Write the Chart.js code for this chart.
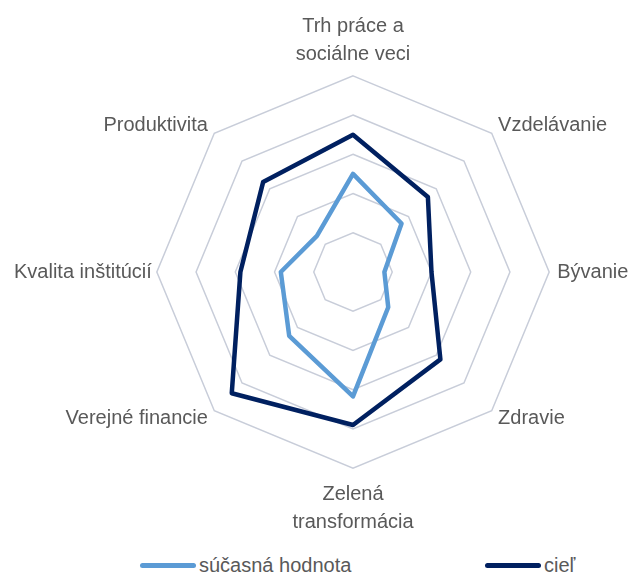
<!DOCTYPE html>
<html>
<head>
<meta charset="utf-8">
<script src="https://cdn.jsdelivr.net/npm/chart.js@4"></script>
<style>
  html, body { margin: 0; padding: 0; background: #fff; overflow: hidden; }
  #wrap { position: relative; width: 629px; height: 576px; overflow: hidden; }
  /* chart box is a bit wider than the page so the radar gets the full radius */
  #chart-box { position: absolute; left: -17px; top: 0; width: 678px; height: 545px; }
  .leg { position: absolute; top: 551px; height: 28px; display: flex; align-items: center;
         font-family: "Liberation Sans", Arial, sans-serif;
         font-size: 20px; color: #595959; white-space: nowrap; }
  .leg span.ln { display: inline-block; width: 56px; height: 5px; border-radius: 3px; margin-right: 3px; }
</style>
</head>
<body>
<div id="wrap">
  <div id="chart-box"><canvas id="chart"></canvas></div>
  <div class="leg" style="left:140px"><span class="ln" style="background:#5b9bd5"></span>súčasná hodnota</div>
  <div class="leg" style="left:485px"><span class="ln" style="background:#002060"></span>cieľ</div>
</div>
<script>
// kategórie (osi) a hodnoty
const labels = [
    ['Trh práce a', 'sociálne veci'],
    'Vzdelávanie',
    'Bývanie',
    'Zdravie',
    ['Zelená', 'transformácia'],
    'Verejné financie',
    'Kvalita inštitúcií',
    'Produktivita'
];
const currentValues = [2.5, 1.75, 0.8, 1.27, 3.17, 2.3, 1.84, 1.3];
const targetValues = [3.5, 2.7, 2.0, 3.15, 3.9, 4.37, 2.87, 3.24];
const scaleMin = 0;
const scaleMax = 5;

// odsadenie popiskov od okraja siete (podla osi)
const labelPadding = [7, 9, 8, 9, 12, 9, 5, 9];
const labelFamily = '"Liberation Sans", Arial, sans-serif';

const ctx = document.getElementById('chart').getContext('2d');
const chart = new Chart(ctx, {
    type: 'radar',
    data: {
        labels: labels,
        datasets: [
            {
                label: 'súčasná hodnota',
                data: currentValues,
                borderColor: '#5b9bd5',
                backgroundColor: 'rgba(0,0,0,0)',
                borderWidth: 4.5,
                fill: false,
                pointRadius: 0,
                tension: 0
            },
            {
                label: 'cieľ',
                data: targetValues,
                borderColor: '#002060',
                backgroundColor: 'rgba(0,0,0,0)',
                borderWidth: 4.5,
                fill: false,
                pointRadius: 0,
                tension: 0
            }
        ]
    },
    options: {
        responsive: true,
        maintainAspectRatio: false,
        animation: false,
        layout: { padding: { top: 10, bottom: 5, left: 0, right: 0 } },
        plugins: {
            legend: { display: false },
            tooltip: { enabled: false }
        },
        elements: { line: { borderJoinStyle: 'round', borderCapStyle: 'round' } },
        scales: {
            r: {
                min: scaleMin,
                max: scaleMax,
                ticks: { display: false, stepSize: 1 },
                angleLines: { display: false },
                grid: { color: '#c8cdd9', lineWidth: 1.5 },
                pointLabels: {
                    color: '#595959',
                    padding: (c) => labelPadding[c.index],
                    font: (c) => ({
                        family: labelFamily,
                        size: 20,
                        lineHeight: Array.isArray(c.label) ? '28px' : '2px'
                    })
                }
            }
        }
    }
});
</script>
</body>
</html>
